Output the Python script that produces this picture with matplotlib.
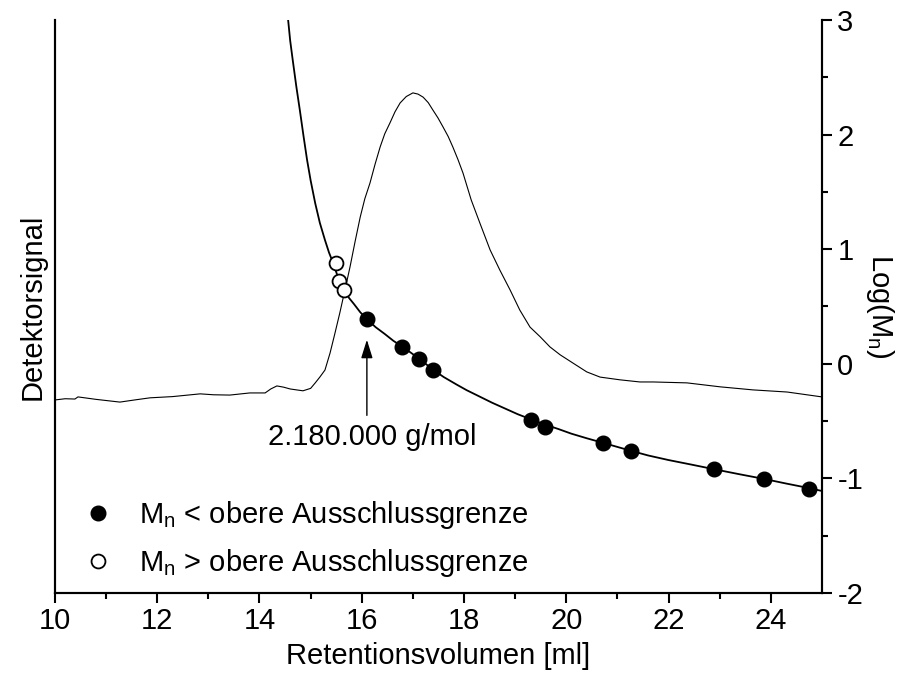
import numpy as np
import matplotlib.pyplot as plt
from matplotlib.lines import Line2D

plt.rcParams['font.family'] = ['Liberation Sans', 'DejaVu Sans']
plt.rcParams['mathtext.fontset'] = 'custom'
plt.rcParams['mathtext.rm'] = 'Liberation Sans'
plt.rcParams['mathtext.it'] = 'Liberation Sans'

FS = 21

# Detektorsignal (willkürliche Einheiten, Peak ~100)
vol_sig = [10.00, 10.20, 10.39, 10.45, 10.80, 11.27, 11.60, 11.86, 12.30, 12.84,
           13.10, 13.42, 13.81, 14.11, 14.22, 14.34, 14.47, 14.60, 14.85, 15.00,
           15.09, 15.18, 15.28, 15.38, 15.47, 15.57, 15.67, 15.77, 15.87, 15.97,
           16.06, 16.16, 16.26, 16.36, 16.45, 16.55, 16.65, 16.75, 16.87, 17.00,
           17.10, 17.20, 17.30, 17.39, 17.49, 17.59, 17.69, 17.78, 17.88, 17.98,
           18.14, 18.31, 18.51, 18.70, 18.90, 19.09, 19.29, 19.49, 19.68, 19.88,
           20.13, 20.40, 20.66, 21.05, 21.44, 21.70, 22.36, 23.01, 23.65, 24.32,
           25.00]
signal = [0.0, 0.4, 0.3, 1.0, 0.2, -0.7, 0.1, 0.7, 1.1, 2.0,
          1.7, 1.6, 2.3, 2.3, 3.6, 4.6, 4.2, 3.6, 3.0, 3.8,
          5.6, 7.5, 9.8, 15.4, 21.5, 28.5, 36.0, 43.6, 52.0, 60.0,
          66.0, 71.1, 77.3, 83.0, 87.3, 90.8, 94.5, 97.4, 99.5, 100.7,
          100.3, 99.3, 97.5, 95.1, 92.5, 89.5, 86.4, 83.0, 78.9, 74.4,
          65.6, 58.0, 49.2, 42.6, 36.1, 29.5, 23.9, 20.7, 17.4, 14.8,
          12.1, 9.2, 7.5, 6.6, 5.9, 5.9, 5.6, 4.3, 3.3, 2.6,
          1.0]

# Kalibrierpunkte
vol_unter = [16.10, 16.79, 17.12, 17.39, 19.31, 19.58, 20.72, 21.27, 22.89, 23.87, 24.75]
logm_unter = [0.39, 0.15, 0.04, -0.05, -0.49, -0.55, -0.69, -0.76, -0.92, -1.005, -1.09]
vol_ueber = [15.50, 15.56, 15.65]
logm_ueber = [0.88, 0.72, 0.64]

# Kalibrierkurve
vol_fit = [14.52, 14.56, 14.60, 14.65, 14.72, 14.79, 14.86, 14.93, 15.00, 15.09,
           15.18, 15.28, 15.36, 15.44, 15.50, 15.56, 15.65, 15.75, 15.85, 15.97,
           16.10, 16.27, 16.45, 16.62, 16.79, 16.95, 17.12, 17.39, 17.60, 17.85,
           18.05, 18.30, 18.55, 18.80, 19.05, 19.31, 19.58, 19.85, 20.10, 20.40,
           20.72, 21.27, 21.60, 22.00, 22.45, 22.89, 23.40, 23.87, 24.30, 24.75,
           25.00]
logm_fit = [3.10, 3.00, 2.82, 2.65, 2.42, 2.21, 1.99, 1.78, 1.60, 1.40,
            1.23, 1.08, 0.97, 0.88, 0.80, 0.73, 0.64, 0.575, 0.52, 0.45,
            0.39, 0.32, 0.26, 0.20, 0.15, 0.10, 0.045, -0.05, -0.115, -0.18,
            -0.23, -0.285, -0.34, -0.39, -0.44, -0.485, -0.53, -0.57, -0.61, -0.65,
            -0.69, -0.76, -0.80, -0.84, -0.88, -0.92, -0.965, -1.005, -1.045, -1.085,
            -1.11]

fig = plt.figure(figsize=(9.13, 6.78), dpi=100)
ax = fig.add_axes([0.0602, 0.1254, 0.8401, 0.8451])
ax2 = ax.twinx()

ax.plot(vol_sig, signal, '-', color='black', lw=0.8)
ax.set_xlim(10, 25)
ax.set_ylim(-63.3, 124.6)
ax.set_yticks([])
ax.set_ylabel('Detektorsignal', fontsize=FS, labelpad=6)
ax.set_xlabel('Retentionsvolumen [ml]', fontsize=FS, labelpad=5)
ax.set_xticks(np.arange(10, 25, 2))
ax.set_xticks(np.arange(11, 25, 2), minor=True)
ax.tick_params(axis='x', which='major', direction='out', length=7, width=1.5,
               labelsize=FS, pad=3)
ax.tick_params(axis='x', which='minor', direction='out', length=4, width=1.5)

ax2.plot(vol_fit, logm_fit, '-', color='black', lw=1.3)
ax2.plot(vol_unter, logm_unter, 'o', color='black', ms=10.5, ls='none')
ax2.plot(vol_ueber, logm_ueber, 'o', mfc='white', mec='black', mew=1.3, ms=10, ls='none')
ax2.set_ylim(-2, 3)
ax2.set_yticks([-2, -1, 0, 1, 2, 3])
ax2.set_yticklabels(['-2', '-1', '0', '1', '2', '3'])
ax2.set_yticks(np.arange(-1.5, 3, 1.0), minor=True)
ax2.tick_params(axis='y', which='major', direction='out', length=7, width=1.5,
                labelsize=FS, pad=4)
ax2.tick_params(axis='y', which='minor', direction='out', length=4, width=1.5)
ax2.set_ylabel('Log(M$_n$)', fontsize=FS, rotation=270, labelpad=24)

for a in (ax, ax2):
    a.spines['top'].set_visible(False)
    for s in ('left', 'right', 'bottom'):
        a.spines[s].set_linewidth(1.5)

ax2.annotate('', xy=(16.1, 0.21), xytext=(16.1, -0.45),
             arrowprops=dict(arrowstyle='-|>,head_length=0.8,head_width=0.25',
                             color='black', lw=1.0,
                             mutation_scale=14, shrinkA=0, shrinkB=0))
ax2.text(16.2, -0.64, '2.180.000 g/mol', fontsize=FS, ha='center', va='center')

handles = [Line2D([], [], marker='o', color='black', ls='none', ms=10.5),
           Line2D([], [], marker='o', mfc='white', mec='black', mew=1.3, ls='none', ms=10)]
labels = ['M$_n$ < obere Ausschlussgrenze', 'M$_n$ > obere Ausschlussgrenze']
ax2.legend(handles, labels, loc='lower left', bbox_to_anchor=(-0.005, -0.017),
           frameon=False, fontsize=FS, handletextpad=0.6, labelspacing=0.55,
           borderaxespad=0.4, handlelength=1.6)

fig.savefig('out.png', dpi=100)
